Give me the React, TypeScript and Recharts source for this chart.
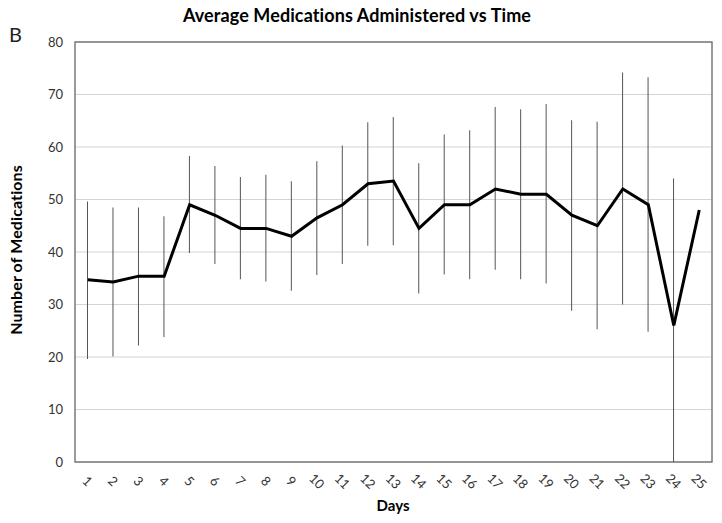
import React from 'react';
import { ComposedChart, Line, Bar, XAxis, YAxis, CartesianGrid, ReferenceArea } from 'recharts';

const days = ['1','2','3','4','5','6','7','8','9','10','11','12','13','14','15','16','17','18','19','20','21','22','23','24','25'];
const means = [34.7, 34.3, 35.4, 35.4, 49.0, 47.0, 44.5, 44.5, 43.0, 46.5, 49.0, 53.0, 53.5, 44.5, 49.0, 49.0, 52.0, 51.0, 51.0, 47.0, 45.0, 52.0, 49.0, 26.0, 48.0];
const lows = [19.6, 20.1, 22.2, 23.8, 39.8, 37.7, 34.8, 34.4, 32.6, 35.6, 37.7, 41.2, 41.3, 32.1, 35.7, 34.8, 36.6, 34.8, 34.0, 28.8, 25.3, 30.0, 24.8, 0, null];
const highs = [49.6, 48.5, 48.5, 46.8, 58.3, 56.4, 54.3, 54.7, 53.5, 57.3, 60.3, 64.7, 65.7, 56.9, 62.4, 63.2, 67.6, 67.2, 68.2, 65.1, 64.8, 74.2, 73.3, 54.0, null];
const yTicks = [0, 10, 20, 30, 40, 50, 60, 70, 80];

const data = days.map((d, i) => ({
  day: d,
  mean: means[i],
  range: lows[i] === null || highs[i] === null ? null : [lows[i], highs[i]],
}));

const FONT = 'Lato, "Open Sans", sans-serif';
const NOLIG = { fontVariantLigatures: 'none' as const, fontFeatureSettings: '"liga" 0, "clig" 0', letterSpacing: '0.1px' };

const XTick = (props: any) => {
  const { x, y, payload } = props;
  return (
    <text
      x={x}
      y={y + 11}
      transform={`rotate(45 ${x} ${y + 11})`}
      textAnchor="middle"
      dominantBaseline="central"
      fontSize={13}
      fill="#333"
      fontFamily={FONT}
    >
      {payload.value}
    </text>
  );
};

export default function App() {
  return (
    <div style={{ position: 'absolute', left: 0, top: 0, width: 722, height: 523, background: '#fff' }}>
      <svg style={{ position: 'absolute', left: 0, top: 0, pointerEvents: 'none' }} width={722} height={523}>
        <text x={357} y={22} textAnchor="middle" fontSize={18} fontWeight="bold" fontFamily={FONT} fill="#000" style={NOLIG}>
          Average Medications Administered vs Time
        </text>
        <text x={9} y={42} fontSize={20} fontFamily={FONT} fill="#222">B</text>
        <text x={393} y={511} textAnchor="middle" fontSize={15} fontWeight="bold" fontFamily={FONT} fill="#000">Days</text>
        <text
          x={22}
          y={250}
          transform="rotate(-90 22 250)"
          textAnchor="middle"
          fontSize={16}
          fontWeight="bold"
          fontFamily={FONT}
          fill="#000"
          style={NOLIG}
        >
          Number of Medications
        </text>
      </svg>
      <ComposedChart
        width={722}
        height={523}
        data={data}
        margin={{ top: 42, right: 10, bottom: 21, left: 35 }}
        style={{ position: 'absolute', left: 0, top: 0 }}
      >
        <CartesianGrid vertical={false} stroke="#d4d4d4" strokeWidth={1} />
        <XAxis
          dataKey="day"
          height={40}
          axisLine={false}
          tickLine={false}
          interval={0}
          tick={<XTick />}
        />
        <YAxis
          domain={[0, 80]}
          ticks={yTicks}
          width={40}
          axisLine={false}
          tickLine={false}
          tickMargin={6}
          tick={{ fontSize: 13, fill: '#333', fontFamily: FONT }}
        />
        <ReferenceArea y1={0} y2={80} fill="none" stroke="#7a7a7a" strokeWidth={1.5} ifOverflow="visible" />
        <Bar dataKey="range" barSize={1} fill="#555" isAnimationActive={false} />
        <Line
          dataKey="mean"
          stroke="#000"
          strokeWidth={3}
          dot={false}
          type="linear"
          isAnimationActive={false}
        />
      </ComposedChart>
    </div>
  );
}
